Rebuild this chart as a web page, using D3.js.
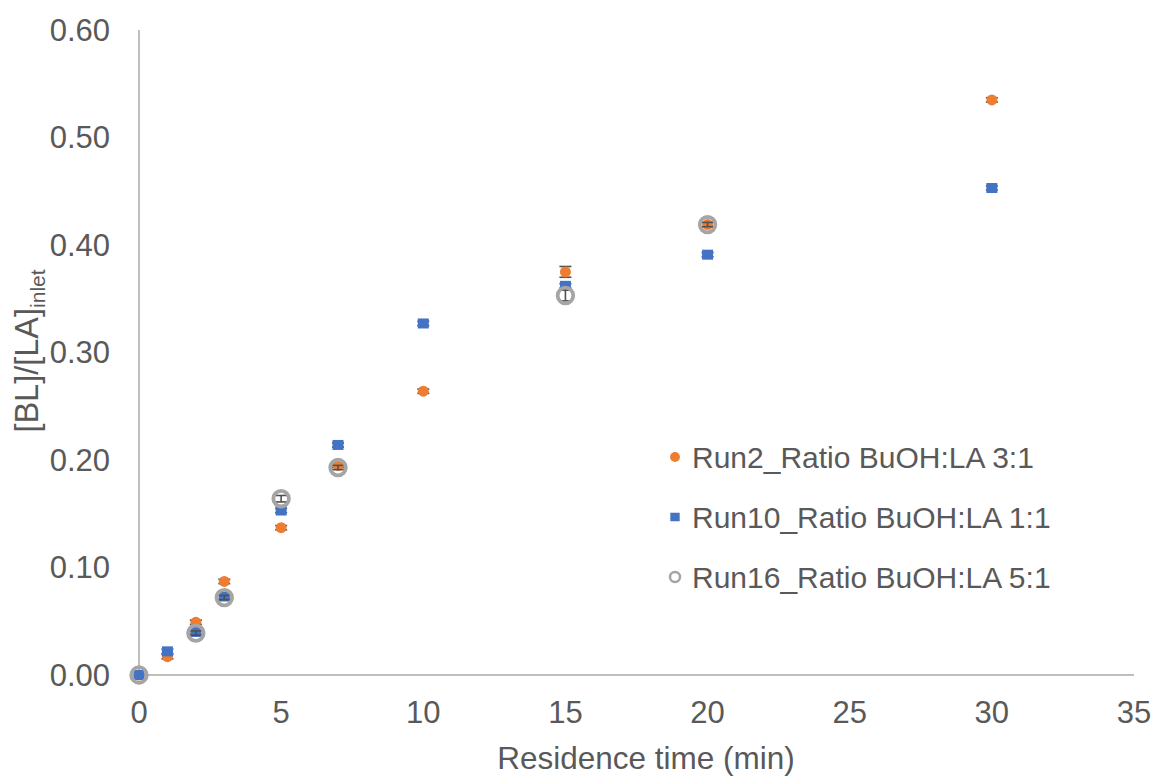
<!DOCTYPE html>
<html>
<head>
<meta charset="utf-8">
<script src="https://cdn.jsdelivr.net/npm/d3@7"></script>
<style>
  body { margin: 0; background: #fff; }
  text { font-family: "Liberation Sans", Arial, sans-serif; fill: #595959; }
</style>
</head>
<body>
<svg id="chart" width="1155" height="776"></svg>
<script>
// residence times (min)
const times = [0, 1, 2, 3, 5, 7, 10, 15, 20, 30]
const run2 = [0, 0.017, 0.049, 0.087, 0.137, 0.195, 0.264, 0.375, 0.419, 0.535]
const run2Err = [0, 0.002, 0.002, 0.002, 0.002, 0.002, 0.002, 0.005, 0.002, 0.002]
const run10 = [0, 0.022, 0.040, 0.073, 0.153, 0.214, 0.327, 0.362, 0.391, 0.453]
const run10Err = [0, 0.002, 0.002, 0.002, 0.002, 0.002, 0.002, 0.002, 0.002, 0.002]
const run16Times = [0, 2, 3, 5, 7, 15, 20]
const run16 = [0, 0.039, 0.072, 0.164, 0.193, 0.353, 0.419]
const run16Err = [0, 0.002, 0.002, 0.003, 0.002, 0.005, 0.002]
const xTicks = [0, 5, 10, 15, 20, 25, 30, 35]
const yTicks = [0, 0.1, 0.2, 0.3, 0.4, 0.5, 0.6]

const series = [
  { name: 'Run2_Ratio BuOH:LA 3:1', x: times, y: run2, err: run2Err, shape: 'dot', color: '#ED7D31' },
  { name: 'Run10_Ratio BuOH:LA 1:1', x: times, y: run10, err: run10Err, shape: 'square', color: '#4472C4' },
  { name: 'Run16_Ratio BuOH:LA 5:1', x: run16Times, y: run16, err: run16Err, shape: 'ring', color: '#A5A5A5' },
]

const margin = { top: 30, right: 21, bottom: 101, left: 139 }
const width = 1155, height = 776
const svg = d3.select('#chart')

const x = d3.scaleLinear().domain([0, 35]).range([margin.left, width - margin.right])
const y = d3.scaleLinear().domain([0, 0.6]).range([height - margin.bottom, margin.top])

// axes lines
svg.append('line')
  .attr('x1', x(0)).attr('x2', x(0))
  .attr('y1', y(0.6)).attr('y2', y(0))
  .attr('stroke', '#bfbfbf').attr('stroke-width', 2)
svg.append('line')
  .attr('x1', x(0)).attr('x2', x(35))
  .attr('y1', y(0)).attr('y2', y(0))
  .attr('stroke', '#bfbfbf').attr('stroke-width', 2)

// tick labels
svg.append('g').selectAll('text')
  .data(yTicks).join('text')
  .attr('x', x(0) - 29).attr('y', (d) => y(d))
  .attr('dy', '0.35em')
  .attr('text-anchor', 'end')
  .style('font-size', '31px')
  .text((d) => d3.format('.2f')(d))

svg.append('g').selectAll('text')
  .data(xTicks).join('text')
  .attr('x', (d) => x(d)).attr('y', y(0) + 48)
  .attr('text-anchor', 'middle')
  .style('font-size', '31px')
  .text((d) => d)

// axis titles
svg.append('text')
  .attr('x', 646).attr('y', 769)
  .attr('text-anchor', 'middle')
  .style('font-size', '31.5px')
  .text('Residence time (min)')

const yTitle = svg.append('text')
  .attr('transform', `translate(38, 351) rotate(-90)`)
  .attr('text-anchor', 'middle')
  .style('font-size', '32.5px')
yTitle.append('tspan').text('[BL]/[LA]')
yTitle.append('tspan').attr('dy', 7).style('font-size', '21px').text('inlet')

function drawMarker(g, shape, color, size) {
  if (shape === 'dot') {
    g.append('circle').attr('r', size * 0.55).attr('fill', color)
  } else if (shape === 'square') {
    g.append('rect').attr('x', -size * 0.55).attr('y', -size * 0.5)
      .attr('width', size * 1.1).attr('height', size).attr('fill', color)
  } else {
    g.append('circle').attr('r', size * 0.78).attr('fill', 'none')
      .attr('stroke', color).attr('stroke-width', size * 0.38)
  }
}

// series: error bars under markers
series.forEach((s) => {
  const pts = s.x.map((t, i) => ({ t, v: s.y[i], e: s.err[i] }))
  const g = svg.append('g')
  const eb = g.append('g').attr('stroke', '#505050').attr('stroke-width', 1.6)
  pts.filter((p) => p.e > 0).forEach((p) => {
    const cx = x(p.t)
    eb.append('line').attr('x1', cx).attr('x2', cx).attr('y1', y(p.v - p.e)).attr('y2', y(p.v + p.e))
    ;[p.v - p.e, p.v + p.e].forEach((v) => {
      eb.append('line').attr('x1', cx - 6).attr('x2', cx + 6).attr('y1', y(v)).attr('y2', y(v))
    })
  })
  pts.forEach((p) => {
    const m = g.append('g').attr('transform', `translate(${x(p.t)},${y(p.v)})`)
    drawMarker(m, s.shape, s.color, 10)
  })
})

// legend
const legend = svg.append('g').attr('transform', 'translate(675, 457)')
series.forEach((s, i) => {
  const row = legend.append('g').attr('transform', `translate(0, ${i * 60})`)
  const m = row.append('g')
  if (s.shape === 'ring') {
    m.append('circle').attr('r', 5).attr('fill', 'none').attr('stroke', s.color).attr('stroke-width', 2.5)
  } else {
    drawMarker(m, s.shape, s.color, s.shape === 'dot' ? 9 : 8.5)
  }
  row.append('text').attr('x', 17).attr('dy', '0.35em')
    .style('font-size', '30px').text(s.name)
})
</script>
</body>
</html>
